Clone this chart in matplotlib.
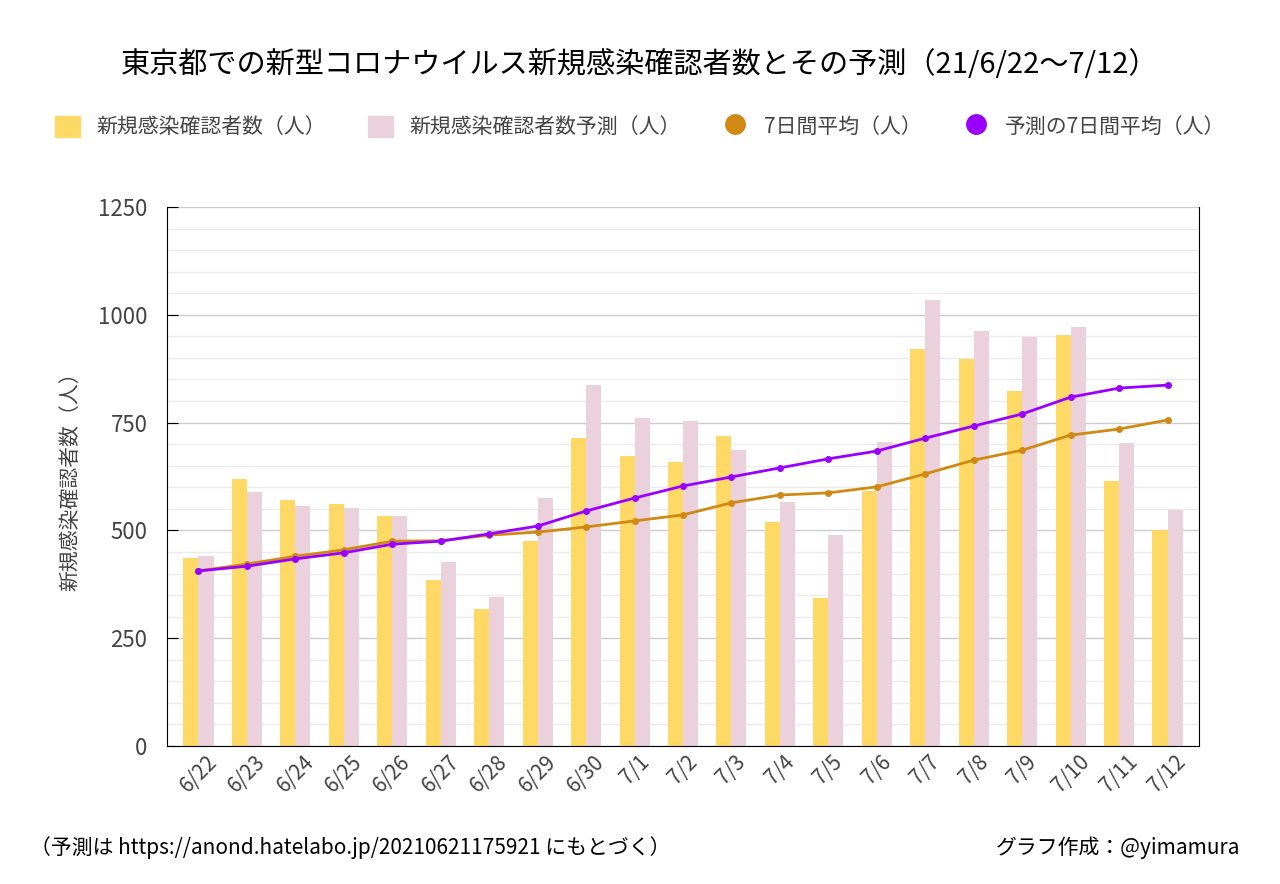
import numpy as np
import matplotlib
matplotlib.use("Agg")
import matplotlib.pyplot as plt
from matplotlib.lines import Line2D
from matplotlib.patches import Patch

plt.rcParams['font.family'] = ['Noto Sans CJK JP', 'DejaVu Sans']

dates = ["6/22","6/23","6/24","6/25","6/26","6/27","6/28","6/29","6/30","7/1","7/2",
         "7/3","7/4","7/5","7/6","7/7","7/8","7/9","7/10","7/11","7/12"]
actual = [436, 619, 570, 561, 533, 385, 318, 475, 714, 673, 658,
          719, 519, 343, 591, 920, 897, 823, 953, 614, 501]
predicted = [441, 589, 557, 552, 533, 427, 346, 575, 837, 761, 754,
             686, 566, 489, 705, 1034, 962, 948, 971, 703, 547]
avg7 = [406, 422, 440, 455, 475, 476, 489, 496, 508, 522, 536,
        564, 582, 587, 601, 631, 663, 686, 721, 735, 756]
pred_avg7 = [406, 417, 434, 448, 468, 475, 492, 510, 545, 575, 603,
             624, 645, 666, 684, 714, 742, 770, 809, 830, 837]
labels = ["新規感染確認者数（人）", "新規感染確認者数予測（人）", "7日間平均（人）", "予測の7日間平均（人）"]

fig = plt.figure(figsize=(12.8, 8.84), dpi=100)
ax = fig.add_axes([167/1280, 1-746/884, (1199-167)/1280, (746-207)/884])

x = np.arange(len(dates))
w = 0.31
c_act, c_pred, c_avg, c_pavg = "#ffd966", "#ead1dc", "#d08a14", "#9900ff"
ax.bar(x - w/2, actual, w, color=c_act, zorder=2)
ax.bar(x + w/2, predicted, w, color=c_pred, zorder=2)
ax.plot(x, avg7, color=c_avg, lw=2, marker="o", ms=4, zorder=3)
ax.plot(x, pred_avg7, color=c_pavg, lw=2, marker="o", ms=4, zorder=4)

ax.set_xlim(-0.65, len(dates) - 0.35)
ax.set_ylim(0, 1250)
ax.set_yticks([0, 250, 500, 750, 1000, 1250])
ax.set_yticks(np.arange(0, 1251, 50), minor=True)
ax.grid(axis="y", which="major", color="#cccccc", lw=1, zorder=0)
ax.grid(axis="y", which="minor", color="#ebebeb", lw=1, zorder=0)
ax.tick_params(axis="y", which="minor", length=0)
ax.tick_params(axis="y", which="major", labelsize=16, labelcolor="#444444",
               color="black", direction="in", length=8, pad=14)
ax.set_xticks(x)
ax.set_xticklabels(dates, rotation=45, fontsize=15, color="#444444")
ax.tick_params(axis="x", length=0)
ax.spines["top"].set_visible(False)
for s in ["left", "right", "bottom"]:
    ax.spines[s].set_color("black")
ax.set_ylabel("新規感染確認者数（人）", fontsize=15, color="#444444", labelpad=12)

fig.text(0.5, 1-65/884, "東京都での新型コロナウイルス新規感染確認者数とその予測（21/6/22〜7/12）",
         ha="center", va="center", fontsize=21)
h = [Patch(color=c_act), Patch(color=c_pred),
     Line2D([], [], marker="o", ls="", color=c_avg, ms=14),
     Line2D([], [], marker="o", ls="", color=c_pavg, ms=14)]
fig.legend(h, labels, loc="center", bbox_to_anchor=(0.5, 1-127/884), ncol=4,
           frameon=False, fontsize=15, labelcolor="#444444", handlelength=1.2,
           handleheight=1.2, columnspacing=2.0)
fig.text(30/1280, 1-848/884, "（予測は https://anond.hatelabo.jp/20210621175921 にもとづく）",
         fontsize=15, va="center")
fig.text(1240/1280, 1-848/884, "グラフ作成：@yimamura", fontsize=15, va="center", ha="right")

fig.savefig("out.png", dpi=100)
